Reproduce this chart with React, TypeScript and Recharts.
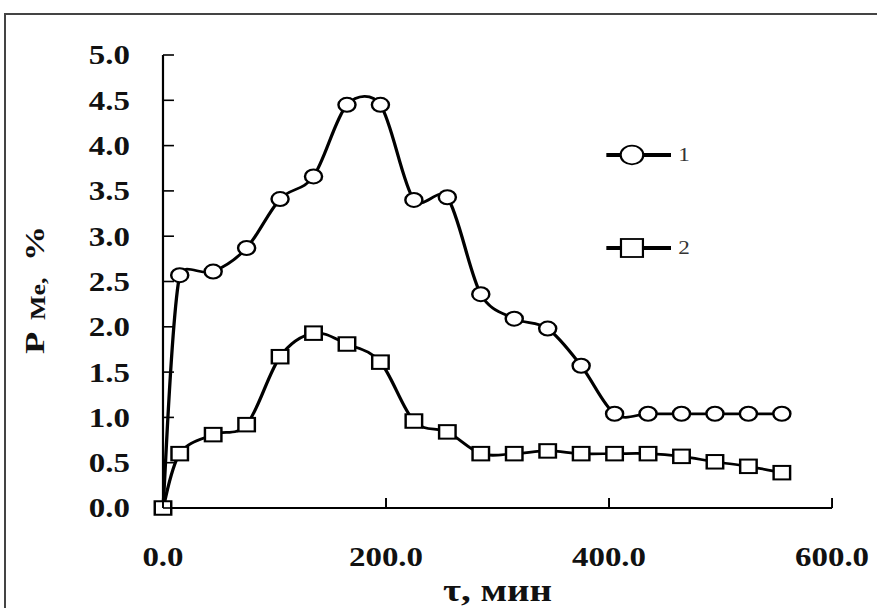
import React from 'react';
import { LineChart, Line, XAxis, YAxis, Legend } from 'recharts';

// Sampling times, min
const times = [0, 15, 45, 75, 105, 135, 165, 195, 225, 255, 285, 315, 345, 375, 405, 435, 465, 495, 525, 555];
// Series 1 (circles), %
const series1 = [0, 2.57, 2.61, 2.87, 3.41, 3.66, 4.45, 4.45, 3.4, 3.43, 2.36, 2.09, 1.98, 1.57, 1.04, 1.04, 1.04, 1.04, 1.04, 1.04];
// Series 2 (squares), %
const series2 = [0, 0.6, 0.81, 0.92, 1.67, 1.93, 1.81, 1.61, 0.96, 0.84, 0.6, 0.6, 0.63, 0.6, 0.6, 0.6, 0.57, 0.51, 0.46, 0.39];

const seriesNames = ['1', '2'];
const xTicks = [0, 200, 400, 600];
const yTicks = [0, 0.5, 1, 1.5, 2, 2.5, 3, 3.5, 4, 4.5, 5];
const xTitle = 'τ, мин';
const yTitleMain = 'P';
const yTitleSub = 'Me,';
const yTitleUnit = '%';

const data = times.map((t, i) => ({ t, s1: series1[i], s2: series2[i] }));

// Layout (chart is drawn narrow, then widened horizontally)
const STRETCH = 1.22;
const W = 719;
const H = 608;
const Y_AXIS_W = 100;
const X_AXIS_H = 100;
const MARGIN = { top: 55, right: 37, bottom: 0, left: 33.6 };
const PLOT_LEFT = MARGIN.left + Y_AXIS_W;
const PLOT_RIGHT = W - MARGIN.right;
const PLOT_BOTTOM = H - MARGIN.bottom - X_AXIS_H;

const SERIF = "'Liberation Serif', 'Times New Roman', serif";
const TICK_FONT = 27;

// Smoothed line: Catmull-Rom Bezier, with each handle limited to half of its segment
function smoothCurve(context: any) {
  let pts: [number, number][] = [];
  const limit = (dx: number, dy: number, seg: number) => {
    const len = Math.hypot(dx, dy);
    const max = seg * 0.5;
    if (len > max && len > 0) {
      const k = max / len;
      return [dx * k, dy * k];
    }
    return [dx, dy];
  };
  return {
    areaStart() {},
    areaEnd() {},
    lineStart() {
      pts = [];
    },
    lineEnd() {
      if (!pts.length) return;
      context.moveTo(pts[0][0], pts[0][1]);
      for (let i = 0; i < pts.length - 1; i++) {
        const p0 = pts[Math.max(i - 1, 0)];
        const p1 = pts[i];
        const p2 = pts[i + 1];
        const p3 = pts[Math.min(i + 2, pts.length - 1)];
        const seg = Math.hypot(p2[0] - p1[0], p2[1] - p1[1]);
        const [ax, ay] = limit((p2[0] - p0[0]) / 6, (p2[1] - p0[1]) / 6, seg);
        const [bx, by] = limit((p3[0] - p1[0]) / 6, (p3[1] - p1[1]) / 6, seg);
        context.bezierCurveTo(p1[0] + ax, p1[1] + ay, p2[0] - bx, p2[1] - by, p2[0], p2[1]);
      }
    },
    point(x: number, y: number) {
      pts.push([x, y]);
    },
  };
}

const CircleDot = (props: any) => {
  const { cx, cy, index } = props;
  if (index === 0 || cx == null || cy == null) return <g key={`c${index}`} />;
  return <circle key={`c${index}`} cx={cx} cy={cy} r={7} fill="#fff" stroke="#000" strokeWidth={2} />;
};

const SquareDot = (props: any) => {
  const { cx, cy, index } = props;
  if (cx == null || cy == null) return <g key={`s${index}`} />;
  const a = 13.5;
  return <rect key={`s${index}`} x={cx - a / 2} y={cy - a / 2} width={a} height={a} fill="#fff" stroke="#000" strokeWidth={2} />;
};

const fmt = (v: number) => v.toFixed(1);

const YTick = (props: any) => {
  const { y, payload } = props;
  return (
    <g>
      <line x1={PLOT_LEFT} x2={PLOT_LEFT + 9} y1={y} y2={y} stroke="#000" strokeWidth={1.6} />
      <text x={PLOT_LEFT - 27} y={y + 9.5} textAnchor="end" fontFamily={SERIF} fontWeight="bold" fontSize={TICK_FONT} fill="#111">
        {fmt(payload.value)}
      </text>
    </g>
  );
};

const XTick = (props: any) => {
  const { x, payload } = props;
  return (
    <g>
      <line x1={x} x2={x} y1={PLOT_BOTTOM} y2={PLOT_BOTTOM - 10} stroke="#000" strokeWidth={1.6} />
      <text x={x} y={PLOT_BOTTOM + 58} textAnchor="middle" fontFamily={SERIF} fontWeight="bold" fontSize={TICK_FONT} fill="#111">
        {fmt(payload.value)}
      </text>
    </g>
  );
};

const XTitle = () => (
  <text x={(PLOT_LEFT + PLOT_RIGHT) / 2} y={601} textAnchor="middle" fontFamily={SERIF} fontWeight="bold" fontSize={32} fill="#111">
    {xTitle}
  </text>
);

const LegendBox = () => (
  <svg width={130} height={140} style={{ display: 'block', overflow: 'visible' }}>
    <line x1={7} x2={60} y1={25} y2={25} stroke="#000" strokeWidth={4} />
    <circle cx={28} cy={25} r={9.3} fill="#fff" stroke="#000" strokeWidth={1.8} />
    <text x={66} y={31.5} fontFamily={SERIF} fontSize={19} fill="#333">
      {seriesNames[0]}
    </text>
    <line x1={7} x2={60} y1={118} y2={118} stroke="#000" strokeWidth={4} />
    <rect x={19} y={109} width={18} height={18} fill="#fff" stroke="#000" strokeWidth={1.8} />
    <text x={66} y={124.5} fontFamily={SERIF} fontSize={19} fill="#333">
      {seriesNames[1]}
    </text>
  </svg>
);

const yTitleTf = (x: number, y: number) => `translate(${x},${y}) rotate(-90) scale(1.3,1)`;

export default function App() {
  return (
    <div style={{ position: 'fixed', left: 0, top: 0, width: 877, height: 608, overflow: 'hidden', background: '#fff' }}>
      <div
        style={{
          position: 'absolute',
          left: 4,
          top: 13,
          width: 1000,
          height: 1000,
          borderLeft: '2.5px solid #444',
          borderTop: '2.5px solid #444',
        }}
      />
      <div style={{ position: 'absolute', left: 0, top: 0, width: W, height: H, transform: `scaleX(${STRETCH})`, transformOrigin: '0 0' }}>
        <LineChart width={W} height={H} data={data} margin={MARGIN}>
          <XAxis
            dataKey="t"
            type="number"
            domain={[0, 600]}
            ticks={xTicks}
            interval={0}
            height={X_AXIS_H}
            tickLine={false}
            tickSize={0}
            axisLine={{ stroke: '#000', strokeWidth: 1.8 }}
            tick={<XTick />}
            label={{ value: xTitle, content: () => <XTitle /> }}
          />
          <YAxis
            type="number"
            domain={[0, 5]}
            ticks={yTicks}
            interval={0}
            width={Y_AXIS_W}
            tickLine={false}
            tickSize={0}
            axisLine={{ stroke: '#000', strokeWidth: 1.8 }}
            tick={<YTick />}
          />
          <Legend
            layout="horizontal"
            verticalAlign="middle"
            align="center"
            content={() => <LegendBox />}
            wrapperStyle={{ left: 490, top: 130, width: 130, height: 140 }}
          />
          <Line
            type={smoothCurve as any}
            dataKey="s1"
            name={seriesNames[0]}
            stroke="#000"
            strokeWidth={2.7}
            dot={CircleDot}
            activeDot={false}
            isAnimationActive={false}
          />
          <Line
            type={smoothCurve as any}
            dataKey="s2"
            name={seriesNames[1]}
            stroke="#000"
            strokeWidth={2.7}
            dot={SquareDot}
            activeDot={false}
            isAnimationActive={false}
          />
        </LineChart>
      </div>
      <svg width={80} height={H} style={{ position: 'absolute', left: 0, top: 0 }}>
        <text transform={yTitleTf(44, 354)} fontFamily={SERIF} fontWeight="bold" fontSize={28} fill="#111">
          {yTitleMain}
        </text>
        <text transform={yTitleTf(45, 320)} fontFamily={SERIF} fontWeight="bold" fontSize={20} fill="#111">
          {yTitleSub}
        </text>
        <text transform={yTitleTf(44, 261)} fontFamily={SERIF} fontWeight="bold" fontSize={27} fill="#111">
          {yTitleUnit}
        </text>
      </svg>
    </div>
  );
}
